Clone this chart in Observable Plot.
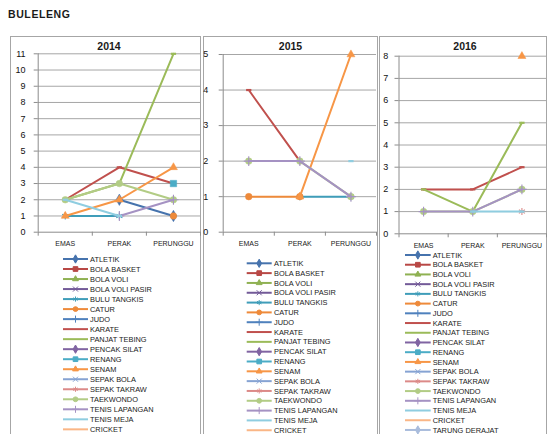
<!DOCTYPE html>
<html><head><meta charset="utf-8">
<script src="https://cdn.jsdelivr.net/npm/d3@7"></script>
<script src="https://cdn.jsdelivr.net/npm/@observablehq/plot@0.6"></script>
<style>
body{margin:0;background:#fff;font-family:"Liberation Sans",Arial,sans-serif;}
#root{position:relative;width:547px;height:434px;overflow:hidden;}
.frame{position:absolute;border:1px solid #a6a6a6;box-sizing:border-box;}
.ttl{position:absolute;font-weight:bold;font-size:10.5px;color:#1a1a1a;transform:translateX(-50%);white-space:nowrap;line-height:1;}
.abs{position:absolute;}
</style></head>
<body><div id="root"><div class="abs" style="left:8px;top:9px;font-weight:bold;font-size:10.5px;letter-spacing:0.6px;color:#1a1a1a;line-height:1">BULELENG</div></div>
<script>
const medals = ["EMAS", "PERAK", "PERUNGGU"];
const years = ["2014", "2015", "2016"];
const sports = ["ATLETIK","BOLA BASKET","BOLA VOLI","BOLA VOLI PASIR","BULU TANGKIS","CATUR","JUDO","KARATE","PANJAT TEBING","PENCAK SILAT","RENANG","SENAM","SEPAK BOLA","SEPAK TAKRAW","TAEKWONDO","TENIS LAPANGAN","TENIS MEJA","CRICKET","TARUNG DERAJAT"];
const yMax = [11, 5, 8];
const legendSize = [18, 18, 19];

// rows follow `sports`; columns follow `medals`
const v2014 = [
  [null, 2, 1], [null, null, null], [null, null, null], [null, null, null],
  [1, 1, null], [null, null, 1], [null, null, null], [2, 4, 3],
  [2, 3, 11], [null, null, null], [null, null, 3], [1, 2, 4],
  [null, null, null], [null, null, null], [2, 3, 2], [null, 1, 2],
  [2, 1, null], [null, null, null]
];
const v2015 = [
  [null, null, null], [null, null, null], [null, null, null], [null, null, null],
  [null, 1, 1], [1, 1, null], [null, null, null], [4, 2, null],
  [null, null, null], [null, null, null], [null, null, null], [null, 1, 5],
  [null, null, null], [null, null, null], [2, 2, 1], [2, 2, 1],
  [null, null, 2], [null, null, null]
];
const v2016 = [
  [null, null, null], [null, null, null], [null, null, null], [null, null, null],
  [null, null, null], [null, null, null], [null, null, null], [2, 2, 3],
  [2, 1, 5], [null, null, null], [null, null, null], [null, null, 8],
  [null, null, null], [null, null, 1], [1, 1, 2], [1, 1, 2],
  [null, 1, 1], [null, null, null], [null, null, null]
];
const sportColors = ["#4673ad","#b84845","#8fb152","#735a98","#3f9db9","#ee8a3a","#4f81bd","#c0504d","#9bbb59","#8064a2","#4bacc6","#f79646","#86a3d3","#dc8a88","#b2cc85","#a592c3","#8fcde0","#fab686","#a9bcdc"];
const sportSymbols = ["diamond","square","triangle","times","asterisk","circle","plus","dash","dash","diamond","square","triangle","times","asterisk","circle","plus","dash","dash","diamond"];

const valuesByYear = [v2014, v2015, v2016];

const dash = {draw(ctx, size) { const r = Math.sqrt(size / Math.PI); ctx.moveTo(-r, 0); ctx.lineTo(r, 0); }};
const filled = new Set(["circle", "square", "triangle", "diamond"]);
const sizeScale = {circle: 1, square: 1.1, triangle: 0.9, diamond: 1.05, times: 1, plus: 1, asterisk: 1, dash: 0.8};
function symOpts(name, color, r) {
  const rr = r * sizeScale[name];
  if (name === "dash") return {symbol: dash, r: rr, fill: "none", stroke: color, strokeWidth: 2.2};
  if (filled.has(name)) return {symbol: name, r: rr, fill: color, stroke: color, strokeWidth: 0.5};
  return {symbol: name, r: rr, fill: "none", stroke: color, strokeWidth: 1.1};
}

// layout of the three panels
const layout = [
  {fl: 10, fr: 200, ml: 27.7, mr: 0, mt: 17.3, h: 216, mb: 20.3, pad: 8.7, tx: 109, lx0: 63, lx1: 88, ltx: 90, ly0: 259, ldy: 10.02},
  {fl: 203, fr: 377, ml: 19.7, mr: 1, mt: 18, h: 216, mb: 20.3, pad: 11, tx: 290.5, lx0: 246.7, lx1: 271.7, ltx: 274, ly0: 263.3, ldy: 9.82},
  {fl: 379, fr: 546, ml: 19.5, mr: 0, mt: 19.7, h: 218, mb: 20.7, pad: 6.7, tx: 465, lx0: 405, lx1: 430.7, ltx: 432.7, ly0: 255, ldy: 9.72}
];
const top0 = 36;
const root = document.getElementById("root");

layout.forEach((L, i) => {
  const fr = document.createElement("div");
  fr.className = "frame";
  fr.style.left = L.fl + "px"; fr.style.top = top0 + "px";
  fr.style.width = (L.fr - L.fl + 1) + "px"; fr.style.height = "420px";
  root.appendChild(fr);
});

layout.forEach((L, i) => {
  const vals = valuesByYear[i];
  const list = sports.slice(0, legendSize[i]);
  const yTicks = d3.range(0, yMax[i] + 1);
  const xBounds = d3.range(medals.length + 1).map(k => k - 0.5);
  const xOf = d => medals.indexOf(d.medal);
  const marks = [
    Plot.ruleY(yTicks.slice(1), {stroke: "#a6a6a6", strokeWidth: 1}),
    Plot.axisY({ticks: yTicks, tickSize: 4, tickPadding: L.pad, tickFormat: d3.format("d"), stroke: "#8c8c8c", fill: "#111", fontSize: 9, label: null}),
    Plot.axisX({ticks: d3.range(medals.length), tickFormat: k => medals[k], tickSize: 0, tickPadding: 9, fill: "#1a1a1a", fontSize: 7, label: null}),
    Plot.axisX({ticks: xBounds, tickFormat: () => "", tickSize: 4, stroke: "#8c8c8c", label: null}),
    Plot.ruleY([0], {stroke: "#8c8c8c"}),
    Plot.ruleX(xBounds.slice(0, 1), {stroke: "#8c8c8c"})
  ];
  list.forEach((s, si) => {
    const rows = [];
    vals[si].forEach((v, mi) => { if (v != null) rows.push({sport: s, medal: medals[mi], value: v}); });
    if (!rows.length) return;
    marks.push(Plot.line(rows, {x: xOf, y: "value", stroke: sportColors[si], strokeWidth: 2}));
    marks.push(Plot.dot(rows, {x: xOf, y: "value", ...symOpts(sportSymbols[si], sportColors[si], 3.3)}));
  });
  const chart = Plot.plot({
    width: L.fr - L.fl, height: L.h,
    marginLeft: L.ml, marginRight: L.mr, marginTop: L.mt, marginBottom: L.mb,
    x: {domain: [xBounds[0], xBounds[xBounds.length - 1]]},
    y: {domain: [0, yMax[i]], label: null},
    style: {background: "transparent", fontFamily: "'Liberation Sans', Arial, sans-serif", fontSize: "8.5px", overflow: "visible"},
    marks
  });
  chart.style.position = "absolute";
  chart.style.left = L.fl + "px";
  chart.style.top = top0 + "px";
  root.appendChild(chart);

  const t = document.createElement("div");
  t.className = "ttl";
  t.textContent = years[i];
  t.style.left = L.tx + "px"; t.style.top = "41px";
  root.appendChild(t);
});

// legends
const lg = d3.select(root).append("svg")
  .attr("width", 547).attr("height", 434)
  .style("position", "absolute").style("left", 0).style("top", 0);
const symMap = {circle: d3.symbolCircle, square: d3.symbolSquare, triangle: d3.symbolTriangle, diamond: d3.symbolDiamond, times: d3.symbolTimes, plus: d3.symbolPlus, asterisk: d3.symbolAsterisk};
layout.forEach((L, i) => {
  const list = sports.slice(0, legendSize[i]);
  list.forEach((s, si) => {
    const y = L.ly0 + si * L.ldy;
    const c = sportColors[si];
    lg.append("line").attr("x1", L.lx0).attr("x2", L.lx1).attr("y1", y).attr("y2", y)
      .attr("stroke", c).attr("stroke-width", 2);
    const name = sportSymbols[si];
    const mx = (L.lx0 + L.lx1) / 2;
    if (name !== "dash") {
      const o = symOpts(name, c, 2.4);
      lg.append("path").attr("d", d3.symbol(symMap[name], o.r * o.r * Math.PI)())
        .attr("transform", `translate(${mx},${y})`)
        .attr("fill", o.fill).attr("stroke", o.stroke).attr("stroke-width", 1);
    }
    lg.append("text").attr("x", L.ltx).attr("y", y).attr("dy", "0.35em")
      .attr("font-size", 7.4).attr("fill", "#1a1a1a")
      .attr("font-family", "'Liberation Sans', Arial, sans-serif")
      .text(s);
  });
});
</script></body></html>
